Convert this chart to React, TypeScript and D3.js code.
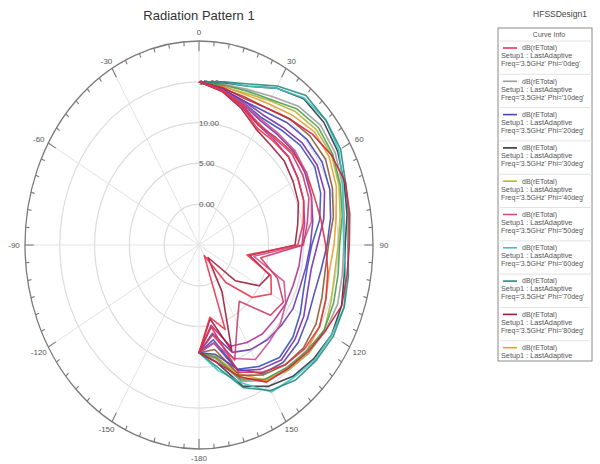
import { useEffect, useRef } from "react";
import * as d3 from "d3";

// theta sweep (deg) shared by every curve
const thetaDeg = [0, 10, 20, 30, 40, 50, 60, 70, 80, 90, 100, 110, 120, 130, 140, 150, 160, 170, 180];

// dB(rETotal) per phi cut
const dbPhi0 = [15, 14.2, 13.1, 11.6, 11.6, 11.8, 11.4, 11.0, 10.2, 9.2, 2.0, 6.0, 7.0, 5.0, 1.0, -3.5, 6.0, 4.0, 8.2];
const dbPhi10 = [15, 15.0, 15.3, 16.0, 17.2, 17.8, 17.6, 16.9, 16.2, 15.8, 15.9, 16.2, 16.0, 15.6, 15.0, 14.2, 12.8, 9.2, 8.2];
const dbPhi20 = [15, 14.4, 13.8, 13.9, 14.6, 15.2, 15.4, 15.0, 14.2, 13.4, 12.8, 12.6, 13.0, 13.6, 13.8, 13.2, 11.2, 8.6, 8.2];
const dbPhi30 = [15, 15.2, 15.7, 17.2, 18.4, 18.4, 18.0, 17.2, 16.6, 16.0, 16.2, 16.8, 17.0, 16.6, 16.0, 15.0, 13.4, 9.6, 8.2];
const dbPhi40 = [15, 14.7, 14.8, 15.4, 16.4, 17.0, 17.0, 16.4, 15.6, 15.0, 14.8, 15.2, 15.8, 15.6, 15.0, 14.0, 12.4, 8.8, 8.2];
const dbPhi50 = [15, 14.3, 13.5, 12.8, 12.8, 13.0, 12.8, 12.2, 11.4, 9.8, 3.0, 8.0, 9.4, 10.2, 10.6, 11.2, 9.8, 7.2, 8.2];
const dbPhi60 = [15, 15.3, 15.7, 17.2, 18.5, 18.8, 18.2, 17.0, 16.0, 15.8, 16.4, 17.2, 17.0, 16.8, 16.2, 15.8, 13.0, 10.6, 8.2];
const dbPhi70 = [15, 15.3, 16.0, 17.5, 18.9, 18.8, 18.5, 17.4, 16.8, 16.4, 16.8, 17.2, 17.3, 17.0, 16.6, 15.6, 13.6, 10.2, 8.2];
const dbPhi80 = [15, 14.1, 12.8, 11.4, 11.0, 11.0, 10.6, 10.2, 9.4, 8.8, 2.4, 5.8, 5.0, 1.8, -3.0, 1.6, 8.8, 4.2, 8.2];
const dbPhi90 = [15, 14.8, 14.6, 15.0, 15.8, 16.6, 16.6, 16.0, 15.0, 14.4, 14.0, 14.4, 15.0, 15.2, 14.8, 14.2, 11.8, 9.0, 8.2];
const dbPhi100 = [15, 14.4, 13.8, 13.4, 13.8, 14.4, 14.6, 14.2, 13.2, 12.0, 11.4, 11.6, 12.4, 13.0, 13.4, 12.6, 11.4, 7.2, 8.2];
const dbPhi110 = [15, 14.6, 14.1, 14.4, 15.2, 16.2, 17.0, 17.4, 17.0, 16.6, 16.6, 16.8, 16.0, 15.4, 14.8, 14.4, 12.2, 9.6, 8.2];
const dbPhi120 = [15, 14.9, 15.1, 15.6, 16.8, 17.4, 17.2, 16.6, 15.9, 15.2, 15.3, 15.6, 15.8, 15.2, 14.6, 14.0, 12.6, 9.0, 8.2];
const dbPhi130 = [15, 14.5, 14.3, 14.4, 15.2, 15.8, 16.0, 15.4, 14.6, 13.6, 13.4, 13.8, 14.4, 14.6, 14.2, 13.4, 12.0, 8.0, 8.2];
const dbPhi140 = [15, 14.3, 13.2, 12.2, 12.0, 12.4, 12.2, 11.8, 10.8, 10.0, 4.0, 7.0, 9.0, 8.4, 4.0, 6.0, 10.0, 6.2, 8.2];
const dbPhi150 = [15, 14.4, 13.6, 13.0, 13.4, 14.0, 14.2, 13.6, 12.6, 11.2, 10.8, 11.0, 11.8, 12.6, 13.0, 12.2, 11.2, 6.8, 8.2];
const dbPhi160 = [15, 14.2, 13.3, 12.0, 12.2, 12.6, 12.8, 12.6, 12.8, 13.2, 13.8, 14.4, 15.0, 14.8, 14.2, 13.0, 11.6, 5.2, 8.2];
const dbPhi170 = [15, 14.2, 13.0, 12.0, 11.8, 11.8, 11.4, 11.0, 10.4, 9.8, 9.6, 9.4, 9.4, 9.2, 9.2, 8.8, 8.2, 5.0, 8.2];
const dbPhi180 = [15, 14.3, 13.4, 12.6, 12.6, 12.8, 12.6, 12.2, 11.6, 11.0, 10.6, 10.4, 10.6, 10.4, 10.2, 9.8, 9.0, 6.0, 8.2];

const phiLabels = ["0deg", "10deg", "20deg", "30deg", "40deg", "50deg", "60deg", "70deg", "80deg", "90deg",
  "100deg", "110deg", "120deg", "130deg", "140deg", "150deg", "160deg", "170deg", "180deg"];
const curveColors = ["#e8344e", "#9c9c9c", "#4646b4", "#34343e", "#b4b43c", "#d24c8c", "#3cc4c8", "#288c7c",
  "#a01e3c", "#e4a030", "#7a2ea8", "#d0203c", "#4c9c4c", "#8c5a34", "#c83c6c", "#3850c0", "#e03040",
  "#b03090", "#6a3ab0"];
const curves = [dbPhi0, dbPhi10, dbPhi20, dbPhi30, dbPhi40, dbPhi50, dbPhi60, dbPhi70, dbPhi80, dbPhi90,
  dbPhi100, dbPhi110, dbPhi120, dbPhi130, dbPhi140, dbPhi150, dbPhi160, dbPhi170, dbPhi180];
// order they get painted (reds end up on top like in HFSS)
const drawOrder = [1, 4, 9, 12, 13, 3, 6, 7, 2, 10, 18, 15, 11, 17, 16, 5, 14, 8, 0];

const radialTicks = [0, 5, 10, 15];
const angleTicks = [0, 30, 60, 90, 120, 150, 180, 210, 240, 270, 300, 330];
const angleLabels = ["0", "30", "60", "90", "120", "150", "-180", "-150", "-120", "-90", "-60", "-30"];

const legendCount = 10;

export default function App() {
  const svgRef = useRef(null);

  useEffect(() => {
    const svg = d3.select(svgRef.current);
    svg.selectAll("*").remove();

    const cx = 199, cy = 245, rx = 174, ry = 204;
    const rScale = d3.scaleLinear().domain([-5, 20]).range([0, 1]);
    const aScale = d3.scaleLinear().domain([0, 360]).range([0, 2 * Math.PI]);
    const px = (deg, rho) => cx + rx * rho * Math.sin(aScale(deg));
    const py = (deg, rho) => cy - ry * rho * Math.cos(aScale(deg));

    const font = "Arial, 'Liberation Sans', sans-serif";

    // title
    svg.append("text").attr("x", 199).attr("y", 20).attr("text-anchor", "middle")
      .attr("font-family", font).attr("font-size", 13).attr("fill", "#333")
      .text("Radiation Pattern 1");

    // grid
    const grid = svg.append("g");
    grid.selectAll("ellipse").data(radialTicks).join("ellipse")
      .attr("cx", cx).attr("cy", cy)
      .attr("rx", (d) => rx * rScale(d)).attr("ry", (d) => ry * rScale(d))
      .attr("fill", "none").attr("stroke", "#dcdcdc").attr("stroke-width", 1.2);
    grid.selectAll("line").data(angleTicks).join("line")
      .attr("x1", cx).attr("y1", cy)
      .attr("x2", (d) => px(d, 1)).attr("y2", (d) => py(d, 1))
      .attr("stroke", "#e2e2e2").attr("stroke-width", 1);

    // outer ring + ticks
    svg.append("ellipse").attr("cx", cx).attr("cy", cy).attr("rx", rx).attr("ry", ry)
      .attr("fill", "none").attr("stroke", "#7a7a7a").attr("stroke-width", 1.3);
    svg.append("g").selectAll("line").data(d3.range(0, 360, 5)).join("line")
      .attr("x1", (d) => px(d, 1)).attr("y1", (d) => py(d, 1))
      .attr("x2", (d) => px(d, d % 30 === 0 ? 0.95 : 0.978))
      .attr("y2", (d) => py(d, d % 30 === 0 ? 0.95 : 0.978))
      .attr("stroke", "#7a7a7a").attr("stroke-width", 1.1);

    // angle labels
    svg.append("g").selectAll("text").data(angleTicks).join("text")
      .attr("x", (d) => cx + (rx + 11) * Math.sin(aScale(d)))
      .attr("y", (d) => cy - (ry + 9) * Math.cos(aScale(d)) + 3)
      .attr("text-anchor", "middle").attr("font-family", font).attr("font-size", 8)
      .attr("fill", "#555")
      .text((d, i) => angleLabels[i]);

    // radial labels
    svg.append("g").selectAll("text").data(radialTicks).join("text")
      .attr("x", cx).attr("y", (d) => py(0, rScale(d)) + 3)
      .attr("font-family", font).attr("font-size", 8).attr("fill", "#555")
      .text((d) => d.toFixed(2));

    // curves
    const curveLine = d3.line()
      .x((d, i) => px(thetaDeg[i], rScale(d)))
      .y((d, i) => py(thetaDeg[i], rScale(d)));
    svg.append("g").selectAll("path").data(drawOrder).join("path")
      .attr("d", (k) => curveLine(curves[k]))
      .attr("fill", "none")
      .attr("stroke", (k) => curveColors[k])
      .attr("stroke-width", 1.6)
      .attr("stroke-linejoin", "round")
      .attr("opacity", 0.9);

    // legend
    svg.append("text").attr("x", 560).attr("y", 17).attr("text-anchor", "middle")
      .attr("font-family", font).attr("font-size", 8.5).attr("fill", "#444").text("HFSSDesign1");
    const lg = svg.append("g");
    const boxX = 498, boxY = 28, boxW = 94, boxH = 333;
    lg.append("rect").attr("x", boxX).attr("y", boxY).attr("width", boxW).attr("height", boxH)
      .attr("fill", "#fff").attr("stroke", "#8a8a8a").attr("stroke-width", 1);
    lg.append("text").attr("x", boxX + boxW / 2 + 4).attr("y", 37).attr("text-anchor", "middle")
      .attr("font-family", font).attr("font-size", 7).attr("fill", "#555").text("Curve Info");
    const rowY = d3.scaleLinear().domain([0, 1]).range([41, 74.3]);
    const rows = lg.selectAll("g.row").data(d3.range(legendCount)).join("g").attr("class", "row");
    rows.append("line")
      .attr("x1", boxX).attr("x2", boxX + boxW)
      .attr("y1", (i) => rowY(i)).attr("y2", (i) => rowY(i))
      .attr("stroke", "#dadada").attr("stroke-width", 0.8);
    rows.append("line")
      .attr("x1", 503).attr("x2", 517)
      .attr("y1", (i) => rowY(i) + 7).attr("y2", (i) => rowY(i) + 7)
      .attr("stroke", (i) => curveColors[i]).attr("stroke-width", 1.6);
    rows.append("text").attr("x", 522).attr("y", (i) => rowY(i) + 9.3)
      .attr("font-family", font).attr("font-size", 7).attr("fill", "#555").text("dB(rETotal)");
    rows.append("text").attr("x", 501).attr("y", (i) => rowY(i) + 17.3)
      .attr("font-family", font).attr("font-size", 7.3).attr("fill", "#555").text("Setup1 : LastAdaptive");
    rows.filter((i) => i < legendCount - 1).append("text")
      .attr("x", 501).attr("y", (i) => rowY(i) + 25.3)
      .attr("font-family", font).attr("font-size", 7).attr("fill", "#555")
      .text((i) => `Freq='3.5GHz' Phi='${phiLabels[i]}'`);
  }, []);

  return (
    <svg ref={svgRef} width={600} height={464}
      style={{ position: "absolute", left: 0, top: 0, background: "#fff" }} />
  );
}
